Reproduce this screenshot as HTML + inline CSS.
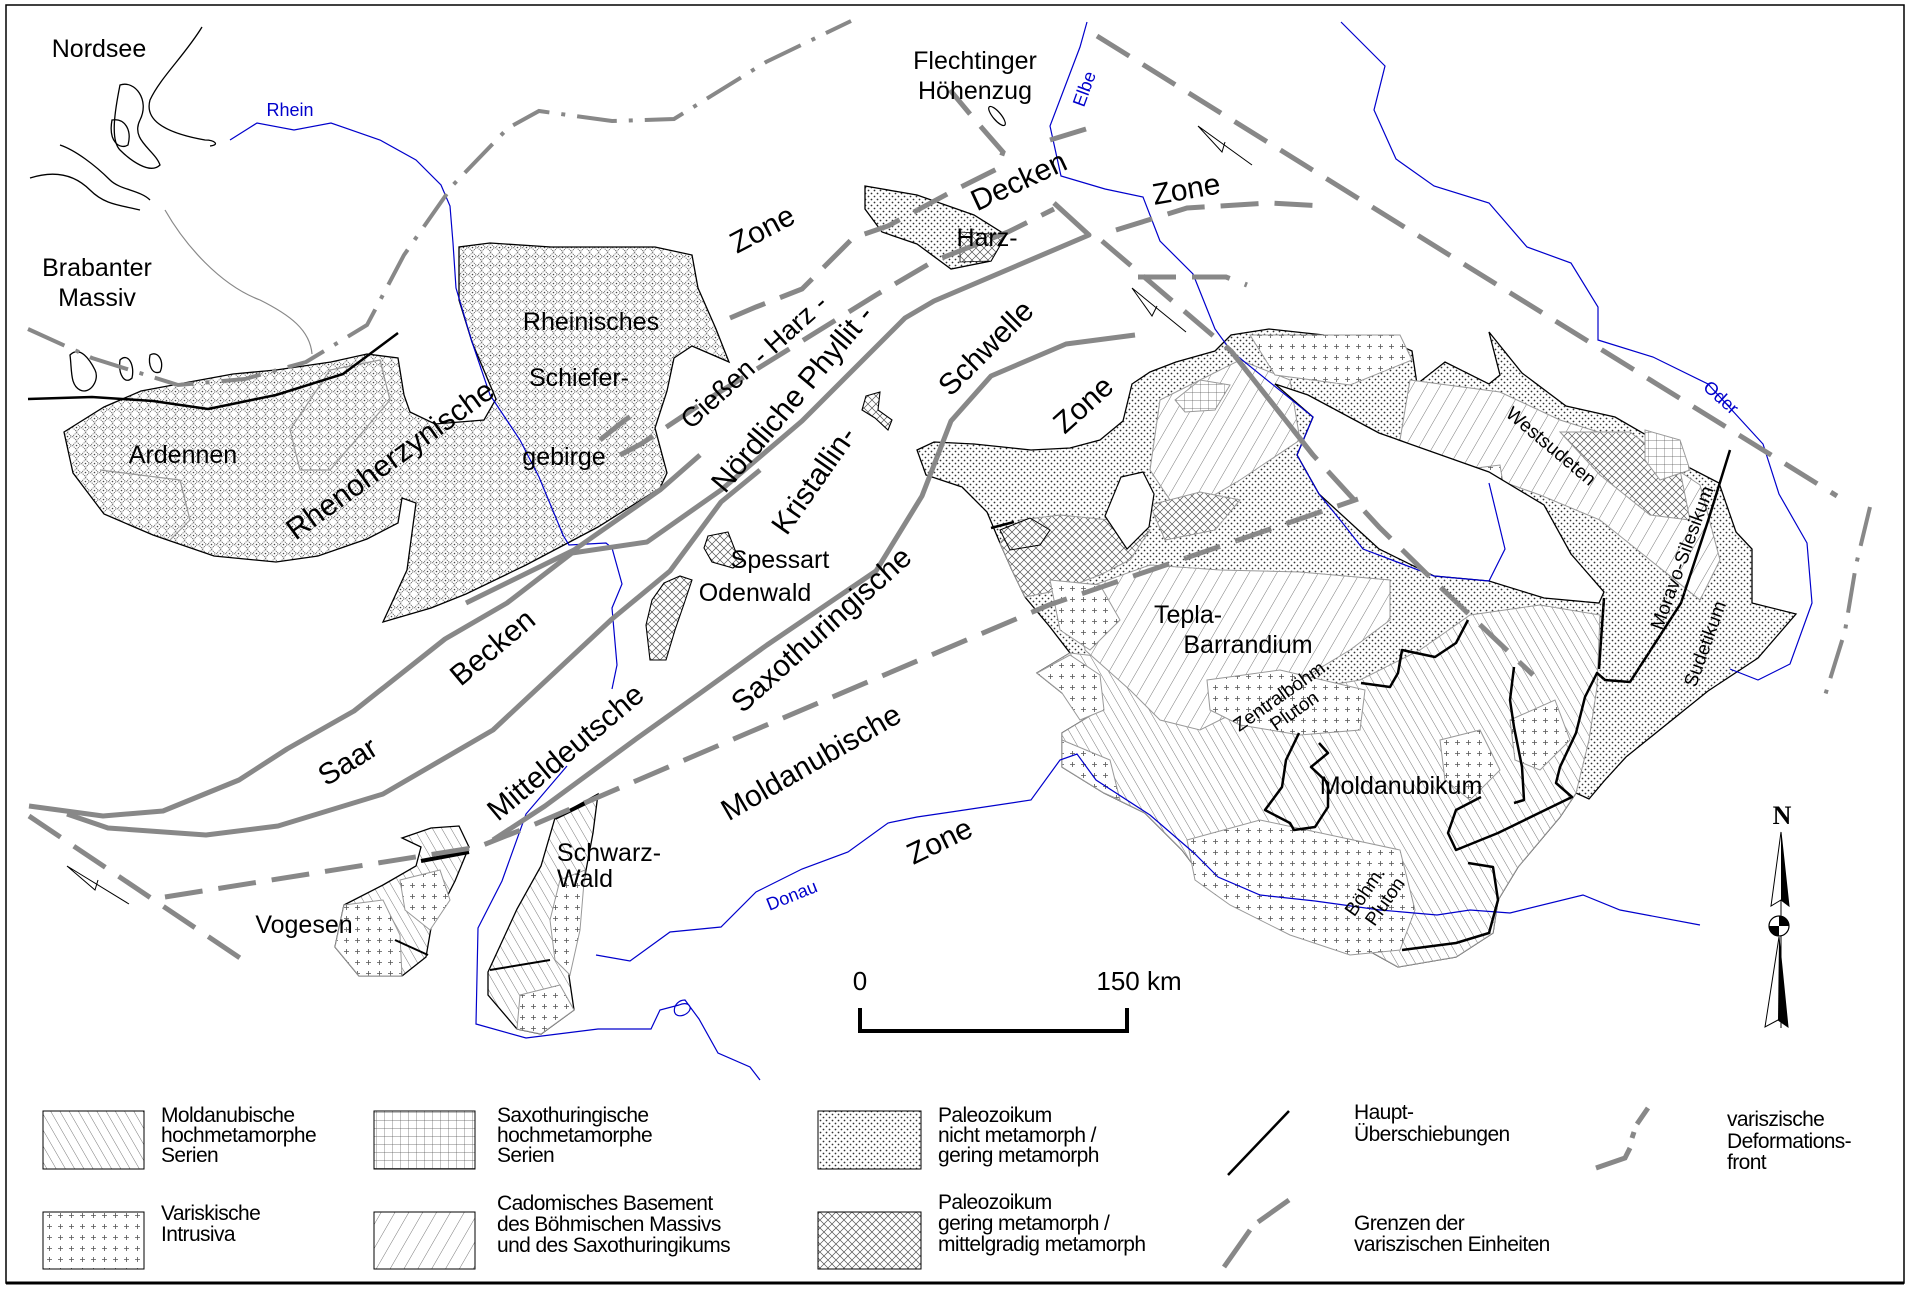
<!DOCTYPE html>
<html><head><meta charset="utf-8"><style>
html,body{margin:0;padding:0;background:#fff}
svg{display:block}
text{font-family:"Liberation Sans",Arial,sans-serif;fill:#000}
</style></head><body>
<svg width="1910" height="1290" viewBox="0 0 1910 1290" xmlns="http://www.w3.org/2000/svg">
<defs>
<pattern id="dots" width="6" height="6" patternUnits="userSpaceOnUse"><rect width="6" height="6" fill="#fff"/><circle cx="1.5" cy="1.5" r="0.9" fill="#333"/><circle cx="4.5" cy="4.5" r="0.9" fill="#333"/></pattern>
<pattern id="diam" width="9" height="9" patternUnits="userSpaceOnUse"><rect width="9" height="9" fill="#fff"/><path d="M4.5 0.5 L8.5 4.5 L4.5 8.5 L0.5 4.5 Z" fill="none" stroke="#666" stroke-width="0.9" stroke-dasharray="1.2 0.8"/><circle cx="4.5" cy="4.5" r="0.8" fill="#444"/></pattern>
<pattern id="back" width="8" height="8" patternUnits="userSpaceOnUse" patternTransform="rotate(-30)"><rect width="8" height="8" fill="#fff"/><line x1="0" y1="0" x2="0" y2="8" stroke="#555" stroke-width="0.8"/></pattern>
<pattern id="fwd" width="12" height="12" patternUnits="userSpaceOnUse" patternTransform="rotate(30)"><rect width="12" height="12" fill="#fff"/><line x1="0" y1="0" x2="0" y2="12" stroke="#555" stroke-width="0.8"/></pattern>
<pattern id="plus" width="11" height="11" patternUnits="userSpaceOnUse"><rect width="11" height="11" fill="#fff"/><path d="M3 5.5h5M5.5 3v5" stroke="#555" stroke-width="0.8"/></pattern>
<pattern id="cross" width="8" height="8" patternUnits="userSpaceOnUse"><rect width="8" height="8" fill="#fff"/><path d="M0 0L8 8M8 0L0 8" stroke="#555" stroke-width="0.7"/></pattern>
<pattern id="grid" width="8" height="8" patternUnits="userSpaceOnUse"><rect width="8" height="8" fill="#fff"/><path d="M0 0H8M0 0V8" stroke="#555" stroke-width="0.7"/></pattern>
</defs>
<rect x="0" y="0" width="1910" height="1290" fill="#fff"/>
<rect x="6" y="5" width="1898" height="1278" fill="none" stroke="#000" stroke-width="1.5"/>
<line x1="6" y1="1283" x2="1904" y2="1283" stroke="#000" stroke-width="3"/>

<g fill="none" stroke="#000" stroke-width="1.3">
<path d="M202,27 C185,55 160,78 150,100 C145,118 160,132 205,140 C215,140 220,145 210,146"/>
<path d="M120,85 C135,80 150,100 140,120 C130,140 155,150 160,165 C150,175 130,160 120,150 C110,140 115,110 120,85Z"/>
<path d="M112,120 C125,118 132,130 128,145 C120,150 108,142 112,120Z"/>
<path d="M60,145 C75,150 95,165 110,180 C120,190 140,190 150,200"/>
<path d="M30,178 C55,170 75,175 90,190 C105,205 120,205 140,210"/>
<path d="M70,355 C80,345 90,360 95,370 C100,380 90,395 80,390 C70,385 72,370 70,355Z"/>
<path d="M120,360 C128,352 135,365 132,378 C125,385 118,375 120,360Z"/>
<path d="M150,355 C158,350 165,362 160,372 C152,375 148,365 150,355Z"/>
</g>
<path d="M165,210 C185,245 220,285 260,300 C290,315 310,330 312,354" fill="none" stroke="#888" stroke-width="1.2"/>

<path d="M64,432 L104,407 L141,391 L184,383 L233,374 L276,370 L331,362 L367,354 L398,358 L404,395 L410,412 L435,424 L484,420 L496,399 L472,342 L459,300 L459,247 L490,243 L551,247 L655,247 L692,255 L698,288 L716,329 L729,362 L692,346 L674,358 L667,391 L655,428 L667,473 L660,488 L598,527 L526,565 L466,594 L431,608 L383,622 L407,570 L416,503 L402,498 L398,523 L367,539 L318,556 L276,562 L214,556 L153,535 L104,514 L73,473 Z" fill="url(#diam)" stroke="#000" stroke-width="1.3"/>
<path d="M290,430 L330,370 L380,360 L390,400 L330,470 L300,470Z" fill="none" stroke="#999" stroke-width="1.2"/>
<path d="M100,470 L180,480 L190,520 L170,540" fill="none" stroke="#999" stroke-width="1.2"/>

<path d="M865,186 L917,195 L974,215 L1006,235 L991,261 L951,269 L917,244 L882,232 L865,209Z" fill="url(#dots)" stroke="#000" stroke-width="1.3"/>
<path d="M960,232 L1006,235 L991,261 L960,262Z" fill="url(#cross)" stroke="#000" stroke-width="0.8"/>
<ellipse cx="997" cy="116" rx="4" ry="12" transform="rotate(-40 997 116)" fill="none" stroke="#000" stroke-width="1.2"/>
<path d="M866,396 L880,392 L878,410 L892,420 L888,430 L875,418 L862,410Z" fill="url(#cross)" stroke="#000" stroke-width="1.1"/>
<path d="M708,536 L728,532 L735,550 L744,560 L733,568 L712,562 L704,548Z" fill="url(#cross)" stroke="#000" stroke-width="1.1"/>
<path d="M664,583 L680,576 L692,580 L684,604 L675,630 L666,660 L650,660 L646,625 L652,600Z" fill="url(#cross)" stroke="#000" stroke-width="1.1"/>

<path d="M402,838 L431,828 L459,826 L469,847 L455,881 L431,928 L426,957 L402,976 L359,976 L335,947 L344,905 L383,885 L416,866 L421,847Z" fill="url(#back)" stroke="#000" stroke-width="1.3"/>
<path d="M335,947 L344,905 L383,900 L400,935 L402,976 L359,976Z" fill="url(#plus)" stroke="#999" stroke-width="1"/>
<path d="M400,880 L440,870 L450,900 L430,930 L405,910Z" fill="url(#plus)" stroke="#999" stroke-width="1"/>
<line x1="421" y1="861" x2="469" y2="852" stroke="#000" stroke-width="4"/>
<line x1="395" y1="940" x2="428" y2="955" stroke="#000" stroke-width="2"/>
<path d="M555,818 L598,794 L593,833 L584,881 L574,928 L569,976 L574,1010 L541,1034 L517,1029 L488,995 L488,972 L517,909 L541,866Z" fill="url(#back)" stroke="#000" stroke-width="1.3"/>
<path d="M560,880 L585,870 L580,930 L570,975 L555,960 L550,920Z" fill="url(#plus)" stroke="#999" stroke-width="1"/>
<path d="M520,995 L560,985 L574,1010 L541,1034 L517,1029Z" fill="url(#plus)" stroke="#999" stroke-width="1"/>
<line x1="555" y1="818" x2="598" y2="797" stroke="#000" stroke-width="4"/>
<line x1="490" y1="970" x2="550" y2="960" stroke="#000" stroke-width="2"/>

<path d="M926,475 L917,450 L934,442 L974,444 L1031,450 L1070,448 L1100,440 L1123,421 L1132,384 L1150,372 L1176,362 L1215,351 L1231,335 L1269,329 L1324,335 L1379,337 L1412,351 L1417,384 L1445,362 L1489,384 L1500,375 L1489,332 L1522,373 L1566,406 L1615,417 L1653,439 L1686,466 L1719,483 L1736,532 L1752,549 L1752,603 L1796,614 L1758,658 L1708,691 L1626,757 L1605,780 L1589,799 L1576,793 L1560,817 L1518,867 L1498,900 L1493,933 L1456,957 L1398,967 L1373,953 L1311,937 L1269,917 L1207,883 L1182,850 L1145,813 L1104,793 L1062,767 L1062,733 L1095,713 L1062,693 L1037,673 L1070,653 L1050,627 L1025,597 L1012,570 L1000,543 L987,512 L962,487Z" fill="url(#dots)" stroke="#000" stroke-width="1.3"/>
<path d="M1037,673 L1070,653 L1130,660 L1180,690 L1250,700 L1300,690 L1360,680 L1420,650 L1470,615 L1540,605 L1600,615 L1597,687 L1589,740 L1576,793 L1560,817 L1518,867 L1498,900 L1493,933 L1456,957 L1398,967 L1373,953 L1311,937 L1269,917 L1207,883 L1182,850 L1145,813 L1104,793 L1062,767 L1062,733 L1095,713 L1062,693Z" fill="url(#back)" stroke="#999" stroke-width="1"/>
<path d="M1080,590 L1150,565 L1220,570 L1300,572 L1390,580 L1390,620 L1350,650 L1300,680 L1250,705 L1200,730 L1160,720 L1130,690 L1085,650Z" fill="url(#fwd)" stroke="#999" stroke-width="1"/>
<path d="M1160,400 L1240,360 L1290,380 L1300,440 L1240,480 L1180,515 L1150,470Z" fill="url(#fwd)" stroke="#999" stroke-width="1"/>
<path d="M1410,380 L1500,392 L1560,420 L1640,445 L1700,485 L1720,560 L1700,600 L1650,560 L1600,520 L1540,495 L1470,470 L1400,440Z" fill="url(#fwd)" stroke="#999" stroke-width="1"/>
<path d="M1000,543 L1020,520 L1060,515 L1110,520 L1150,530 L1130,560 L1100,575 L1060,590 L1025,597 L1012,570Z" fill="url(#cross)" stroke="#999" stroke-width="1"/>
<path d="M1000,530 L1030,518 L1050,530 L1040,545 L1010,550Z" fill="url(#cross)" stroke="#000" stroke-width="1"/>
<path d="M1560,432 L1630,432 L1680,470 L1690,520 L1650,515 L1600,475Z" fill="url(#cross)" stroke="#999" stroke-width="1"/>
<path d="M1150,505 L1200,492 L1240,500 L1215,530 L1165,540Z" fill="url(#cross)" stroke="#999" stroke-width="1"/>
<path d="M1175,400 L1200,380 L1230,385 L1215,410 L1185,412Z" fill="url(#grid)" stroke="#999" stroke-width="1"/>
<path d="M1645,430 L1680,440 L1690,470 L1660,480 L1645,460Z" fill="url(#grid)" stroke="#999" stroke-width="1"/>
<g fill="url(#plus)" stroke="#999" stroke-width="1">
<path d="M1250,335 L1400,335 L1412,360 L1350,385 L1275,375Z"/>
<path d="M1037,673 L1070,655 L1100,675 L1104,710 L1080,720 L1062,693Z"/>
<path d="M1050,580 L1100,585 L1120,620 L1090,650 L1060,630Z"/>
<path d="M1207,680 L1280,670 L1365,690 L1360,730 L1300,735 L1240,725 L1210,710Z"/>
<path d="M1187,840 L1260,820 L1330,835 L1400,850 L1415,910 L1400,950 L1350,955 L1290,935 L1230,905 L1195,880Z"/>
<path d="M1062,740 L1110,760 L1120,800 L1104,793 L1062,767Z"/>
<path d="M1440,740 L1480,730 L1500,770 L1470,800 L1445,780Z"/>
<path d="M1510,720 L1555,700 L1570,740 L1540,770 L1515,760Z"/>
<path d="M1460,470 L1500,465 L1505,495 L1475,500Z"/>
</g>
<path d="M1275,384 L1313,417 L1297,455 L1319,494 L1379,549 L1434,576 L1489,581 L1544,598 L1599,603 L1604,592 L1571,554 L1544,505 L1489,472 L1379,433 L1308,395Z" fill="#fff" stroke="#000" stroke-width="1.3"/>
<path d="M1105,516 L1121,477 L1143,472 L1154,494 L1149,527 L1127,549Z" fill="#fff" stroke="#000" stroke-width="1.2"/>

<g fill="none" stroke="#0000cc" stroke-width="1.2">
<path d="M230,140 L257,123 L294,130 L331,123 L380,140 L416,160 L441,185 L450,206 L453,243 L456,288 L472,342 L490,395 L520,440 L539,477 L563,535 L569,545 L606,543 L612,548 L622,584 L612,608 L617,665 L612,689"/>
<path d="M567,766 L526,814 L502,881 L478,928 L476,1024 L526,1038 L598,1029 L651,1029 L660,1010 L679,1005 C690,1000 695,1010 684,1015 C670,1020 672,1000 685,1000 L699,1019 L718,1053 L750,1067 L760,1080"/>
<path d="M596,955 L630,961 L670,932 L721,927 L756,892 L802,869 L848,852 L888,823 L917,817 L951,812 L1031,800 L1060,760 L1077,754 L1096,780 L1150,815 L1194,853 L1218,877 L1260,895 L1315,901 L1380,910 L1437,915 L1470,910 L1510,913 L1583,895 L1620,910 L1700,925"/>
<path d="M1087,22 L1080,47 L1050,126 L1061,176 L1105,189 L1143,197 L1160,241 L1193,274 L1215,329 L1231,351 L1313,417 L1297,455 L1319,494 L1341,521 L1363,549 L1434,576 L1489,581 L1505,549 L1489,483"/>
<path d="M1341,22 L1385,66 L1374,110 L1396,159 L1434,186 L1489,203 L1527,247 L1571,263 L1598,307 L1598,340 L1653,357 L1708,384 L1763,444 L1779,494 L1807,543 L1812,603 L1790,664 L1758,680 L1730,669"/>
</g>

<g fill="none" stroke="#888" stroke-width="5" stroke-linejoin="round">
<path d="M29,806 L103,816 L163,811 L239,780 L287,749 L354,711 L445,639 L507,603 L572,553 L647,542 L721,490 L802,421 L905,318 L934,301 L1089,235 L1054,203"/>
<path d="M67,814 L108,828 L206,835 L278,826 L383,794 L493,730 L612,619 L670,571 L721,502 L760,470"/>
<path d="M493,840 L545,806 L636,739 L699,694 L767,645 L876,571 L922,496 L951,421 L991,376 L1066,344 L1135,335"/>
<path d="M466,603 L574,550 L660,490 L700,455"/>
<path d="M1231,351 L1313,455"/>
</g>
<g fill="none" stroke="#888" stroke-width="5" stroke-dasharray="38 16">
<path d="M165,897 L478,847 L526,828 L750,732 L1049,605 L1358,499"/>
<path d="M29,816 L249,964"/>
<path d="M620,455 L641,444 L710,398 L802,341 L876,295 L934,261 L1008,232 L1054,209"/>
<path d="M730,318 L756,307 L802,289 L836,255 L853,238 L888,226 L951,192 L997,169 L1003,152 L975,120 L950,90"/>
<path d="M1097,36 L1837,496"/>
<path d="M1102,241 L1231,351 L1313,455 L1379,527 L1434,581 L1533,675"/>
<path d="M1116,230 L1187,208 L1269,203 L1324,206"/>
<path d="M1050,140 L1086,129"/>
<path d="M1138,277 L1226,277 L1247,285"/>
<path d="M600,440 L625,420 L640,410"/>
</g>
<g fill="none" stroke="#888" stroke-width="4" stroke-dasharray="40 12 4 12">
<path d="M28,329 L92,358 L178,385 L245,379 L306,362 L367,325 L404,255 L453,185 L508,128 L539,111 L612,121 L674,119 L766,62 L851,21"/>
<path d="M1870,507 L1856,565 L1845,631 L1823,702"/>
</g>
<g fill="none" stroke="#000" stroke-width="1">
<path d="M67,866 L129,904 M67,866 L95,890 L98,880"/>
<path d="M1198,126 L1252,165 M1198,126 L1222,152 L1225,142"/>
<path d="M1132,288 L1186,332 M1132,288 L1152,316 L1157,306"/>
</g>

<g fill="none" stroke="#000" stroke-width="2.5" stroke-linejoin="round">
<path d="M28,399 L92,397 L153,401 L208,409 L276,395 L343,374 L398,333"/>
<path d="M991,528 L1014,522"/>
<path d="M1468,620 L1456,643 L1435,657 L1402,650 L1398,673 L1390,687 L1361,683"/>
<path d="M1299,733 L1286,760 L1282,787 L1265,810 L1290,823 L1294,830 L1315,827 L1328,807 L1328,783 L1311,767 L1328,753 L1319,743"/>
<path d="M1514,667 L1510,700 L1514,727 L1522,767 L1524,800 L1514,803"/>
<path d="M1730,450 L1708,521 L1681,603 L1630,682 L1605,680 L1597,673 L1585,697 L1576,733 L1560,767 L1556,783 L1572,797 L1539,813 L1498,833 L1456,850 L1448,833 L1456,810 L1481,797"/>
<path d="M1604,598 L1599,669"/>
<path d="M1468,863 L1493,867 L1498,900 L1489,933 L1456,943 L1402,950"/>
</g>

<g font-size="25">
<text x="99" y="57" text-anchor="middle">Nordsee</text>
<text x="97" y="276" text-anchor="middle">Brabanter</text>
<text x="97" y="306" text-anchor="middle">Massiv</text>
<text x="183" y="463" text-anchor="middle">Ardennen</text>
<text x="591" y="330" text-anchor="middle">Rheinisches</text>
<text x="579" y="386" text-anchor="middle">Schiefer-</text>
<text x="564" y="465" text-anchor="middle">gebirge</text>
<text x="987" y="246" text-anchor="middle">Harz-</text>
<text x="975" y="69" text-anchor="middle">Flechtinger</text>
<text x="975" y="99" text-anchor="middle">Höhenzug</text>
<text x="780" y="568" text-anchor="middle">Spessart</text>
<text x="755" y="601" text-anchor="middle">Odenwald</text>
<text x="304" y="933" text-anchor="middle">Vogesen</text>
<text x="609" y="861" text-anchor="middle">Schwarz-</text>
<text x="585" y="887" text-anchor="middle">Wald</text>
<text x="1188" y="623" text-anchor="middle">Tepla-</text>
<text x="1248" y="653" text-anchor="middle">Barrandium</text>
<text x="1401" y="794" text-anchor="middle">Moldanubikum</text>
</g>
<g font-size="30">
<text transform="translate(396,468) rotate(-36)" text-anchor="middle">Rhenoherzynische</text>
<text transform="translate(767,238) rotate(-28)" text-anchor="middle">Zone</text>
<text transform="translate(760,368) rotate(-42)" text-anchor="middle" font-size="27">Gießen - Harz -</text>
<text transform="translate(800,405) rotate(-50)" text-anchor="middle">Nördliche  Phyllit -</text>
<text transform="translate(993,355) rotate(-45)" text-anchor="middle">Schwelle</text>
<text transform="translate(822,486) rotate(-55)" text-anchor="middle">Kristallin-</text>
<text transform="translate(353,770) rotate(-32)" text-anchor="middle">Saar</text>
<text transform="translate(499,655) rotate(-40)" text-anchor="middle">Becken</text>
<text transform="translate(572,760) rotate(-40)" text-anchor="middle">Mitteldeutsche</text>
<text transform="translate(828,637) rotate(-42)" text-anchor="middle">Saxothuringische</text>
<text transform="translate(816,771) rotate(-30)" text-anchor="middle">Moldanubische</text>
<text transform="translate(944,850) rotate(-26)" text-anchor="middle">Zone</text>
<text transform="translate(1090,412) rotate(-42)" text-anchor="middle">Zone</text>
<text transform="translate(1188,199) rotate(-10)" text-anchor="middle">Zone</text>
<text transform="translate(1023,190) rotate(-25)" text-anchor="middle">Decken</text>
</g>
<g font-size="19">
<text transform="translate(1285,700) rotate(-35)" text-anchor="middle">Zentralböhm.</text>
<text transform="translate(1298,716) rotate(-35)" text-anchor="middle">Pluton</text>
<text transform="translate(1370,895) rotate(-55)" text-anchor="middle">Böhm.</text>
<text transform="translate(1390,905) rotate(-55)" text-anchor="middle">Pluton</text>
<text transform="translate(1547,451) rotate(40)" text-anchor="middle">Westsudeten</text>
<text transform="translate(1688,560) rotate(-70)" text-anchor="middle">Moravo-Silesikum</text>
<text transform="translate(1711,646) rotate(-70)" text-anchor="middle">Sudetikum</text>
</g>
<g font-size="18">
<text x="290" y="116" text-anchor="middle" style="fill:#0000cc">Rhein</text>
<text transform="translate(1090,91) rotate(-70)" text-anchor="middle" style="fill:#0000cc">Elbe</text>
<text transform="translate(794,901) rotate(-22)" text-anchor="middle" style="fill:#0000cc">Donau</text>
<text transform="translate(1717,402) rotate(42)" text-anchor="middle" style="fill:#0000cc">Oder</text>
</g>

<text x="860" y="990" font-size="26" text-anchor="middle">0</text>
<text x="1139" y="990" font-size="26" text-anchor="middle">150 km</text>
<path d="M860,1008 V1031 H1127 V1008" fill="none" stroke="#000" stroke-width="4"/>

<text x="1782" y="824" font-size="26" font-weight="bold" text-anchor="middle" style="font-family:'Liberation Serif',serif">N</text>
<path d="M1781,832 L1771,906 L1781,900 L1789,906 Z" fill="#fff" stroke="#000" stroke-width="1"/>
<path d="M1781,832 L1781,900 L1789,906 Z" fill="#000"/>
<line x1="1781" y1="900" x2="1781" y2="1028" stroke="#000" stroke-width="1"/>
<path d="M1779,937 L1765,1027 L1778,1020 L1788,1027 Z" fill="#fff" stroke="#000" stroke-width="1"/>
<path d="M1779,937 L1778,1020 L1788,1027 Z" fill="#000"/>
<circle cx="1779" cy="926" r="10" fill="#fff" stroke="#000" stroke-width="1.2"/>
<path d="M1779,926 V916 A10,10 0 0 1 1789,926 Z M1779,926 V936 A10,10 0 0 1 1769,926 Z" fill="#000"/>

<g stroke="#000" stroke-width="1">
<rect x="43" y="1111" width="101" height="58" fill="url(#back)"/>
<rect x="43" y="1212" width="101" height="57" fill="url(#plus)"/>
<rect x="374" y="1111" width="101" height="58" fill="url(#grid)"/>
<rect x="374" y="1212" width="101" height="57" fill="url(#fwd)"/>
<rect x="818" y="1111" width="103" height="58" fill="url(#dots)"/>
<rect x="818" y="1212" width="103" height="57" fill="url(#cross)"/>
</g>
<line x1="1228" y1="1175" x2="1289" y2="1111" stroke="#000" stroke-width="2.5"/>
<path d="M1596,1168 L1625,1158 L1630,1148 M1632,1138 L1634,1132 M1637,1124 L1648,1108" fill="none" stroke="#888" stroke-width="5"/>
<path d="M1224,1267 L1250,1230 M1258,1222 L1289,1200" fill="none" stroke="#888" stroke-width="5"/>
<g font-size="21" letter-spacing="-0.6">
<text x="161" y="1122">Moldanubische</text>
<text x="161" y="1142">hochmetamorphe</text>
<text x="161" y="1162">Serien</text>
<text x="161" y="1220">Variskische</text>
<text x="161" y="1241">Intrusiva</text>
<text x="497" y="1122">Saxothuringische</text>
<text x="497" y="1142">hochmetamorphe</text>
<text x="497" y="1162">Serien</text>
<text x="497" y="1210">Cadomisches Basement</text>
<text x="497" y="1231">des Böhmischen Massivs</text>
<text x="497" y="1252">und des Saxothuringikums</text>
<text x="938" y="1122">Paleozoikum</text>
<text x="938" y="1142">nicht metamorph /</text>
<text x="938" y="1162">gering metamorph</text>
<text x="938" y="1209">Paleozoikum</text>
<text x="938" y="1230">gering metamorph /</text>
<text x="938" y="1251">mittelgradig metamorph</text>
<text x="1354" y="1119">Haupt-</text>
<text x="1354" y="1141">Überschiebungen</text>
<text x="1354" y="1230">Grenzen der</text>
<text x="1354" y="1251">variszischen Einheiten</text>
<text x="1727" y="1126">variszische</text>
<text x="1727" y="1148">Deformations-</text>
<text x="1727" y="1169">front</text>
</g>
</svg>
</body></html>
